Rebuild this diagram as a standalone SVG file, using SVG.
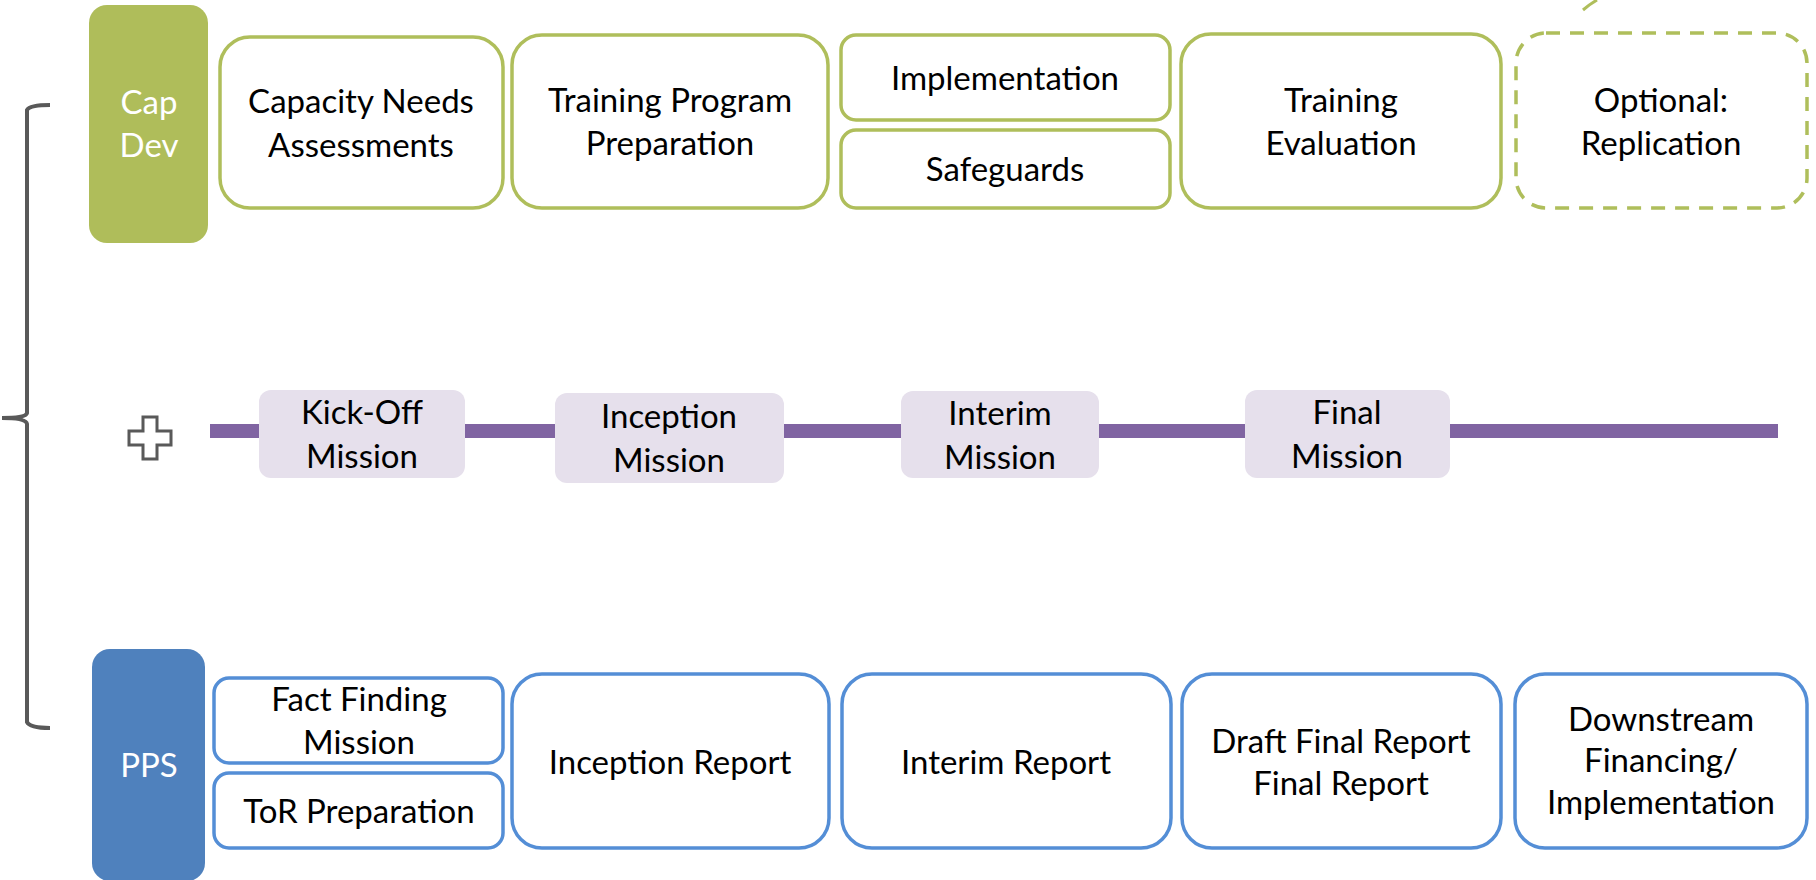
<svg xmlns="http://www.w3.org/2000/svg" width="1816" height="880" viewBox="0 0 1816 880">
<style>
text{font-family:Lato,"Liberation Sans",Arial,sans-serif;font-size:33px;fill:#000;text-anchor:middle}
.lbl{fill:#fff}
.g{fill:#fff;stroke:#afbe5b;stroke-width:3.5}
.gd{fill:#fff;stroke:#afbe5b;stroke-width:3.5;stroke-dasharray:14 10}
.b{fill:#fff;stroke:#548ed6;stroke-width:3.5}
.m{fill:#e6e0ec}
</style>
<rect width="1816" height="880" fill="#fff"/>
<g id="brace">
<path d="M50,105 Q30,105 27,110 L27,413 Q26,418 2,418 Q26,418 27,424 L27,722 Q30,728 50,728" fill="none" stroke="#595959" stroke-width="4"/>
</g>
<g id="connectors">
<line x1="210" y1="431" x2="1778" y2="431" stroke="#8064a2" stroke-width="14"/>
<path d="M1583,10 Q1590,4 1597,0" fill="none" stroke="#afbe5b" stroke-width="3"/>
</g>
<g id="capdev">
<rect x="89" y="5" width="119" height="238" rx="18" fill="#afbd5a"/>
<text class="lbl" x="149" y="114">Cap</text>
<text class="lbl" x="149" y="157">Dev</text>
</g>
<g id="cna">
<rect class="g" x="220" y="37" width="283" height="171" rx="30"/>
<text x="361" y="113">Capacity Needs</text>
<text x="361" y="157">Assessments</text>
</g>
<g id="tpp">
<rect class="g" x="512" y="35" width="316" height="173" rx="30"/>
<text x="670" y="112">Training Program</text>
<text x="670" y="155">Preparation</text>
</g>
<g id="impl">
<rect class="g" x="841" y="35" width="329" height="85" rx="15"/>
<text x="1005" y="90">Implementation</text>
</g>
<g id="safeguards">
<rect class="g" x="841" y="130" width="329" height="78" rx="15"/>
<text x="1005" y="181">Safeguards</text>
</g>
<g id="te">
<rect class="g" x="1181" y="34" width="320" height="174" rx="30"/>
<text x="1341" y="112">Training</text>
<text x="1341" y="155">Evaluation</text>
</g>
<g id="replication">
<rect class="gd" x="1516" y="33" width="291" height="175" rx="30"/>
<text x="1661" y="112">Optional:</text>
<text x="1661" y="155">Replication</text>
</g>
<g id="plus">
<path d="M143,417 h14 v14 h14 v14 h-14 v14 h-14 v-14 h-14 v-14 h14 z" fill="#fff" stroke="#595959" stroke-width="3"/>
</g>
<g id="kickoff">
<rect class="m" x="259" y="390" width="206" height="88" rx="12"/>
<text x="362" y="424">Kick-Off</text>
<text x="362" y="468">Mission</text>
</g>
<g id="inception">
<rect class="m" x="555" y="393" width="229" height="90" rx="12"/>
<text x="669" y="428">Inception</text>
<text x="669" y="472">Mission</text>
</g>
<g id="interim">
<rect class="m" x="901" y="391" width="198" height="87" rx="12"/>
<text x="1000" y="425">Interim</text>
<text x="1000" y="469">Mission</text>
</g>
<g id="final">
<rect class="m" x="1245" y="390" width="205" height="88" rx="12"/>
<text x="1347" y="424">Final</text>
<text x="1347" y="468">Mission</text>
</g>
<g id="pps">
<rect x="92" y="649" width="113" height="232" rx="18" fill="#4f81bd"/>
<text class="lbl" x="149" y="777">PPS</text>
</g>
<g id="ffm">
<rect class="b" x="214" y="678" width="289" height="85" rx="15"/>
<text x="359" y="711">Fact Finding</text>
<text x="359" y="754">Mission</text>
</g>
<g id="tor">
<rect class="b" x="214" y="773" width="289" height="75" rx="15"/>
<text x="359" y="823">ToR Preparation</text>
</g>
<g id="ir">
<rect class="b" x="512" y="674" width="317" height="174" rx="30"/>
<text x="670" y="774">Inception Report</text>
</g>
<g id="intr">
<rect class="b" x="842" y="674" width="329" height="174" rx="30"/>
<text x="1006" y="774">Interim Report</text>
</g>
<g id="fr">
<rect class="b" x="1182" y="674" width="319" height="174" rx="30"/>
<text x="1341" y="753">Draft Final Report</text>
<text x="1341" y="795">Final Report</text>
</g>
<g id="ds">
<rect class="b" x="1515" y="674" width="292" height="174" rx="30"/>
<text x="1661" y="731">Downstream</text>
<text x="1661" y="772">Financing/</text>
<text x="1661" y="814">Implementation</text>
</g>
</svg>
